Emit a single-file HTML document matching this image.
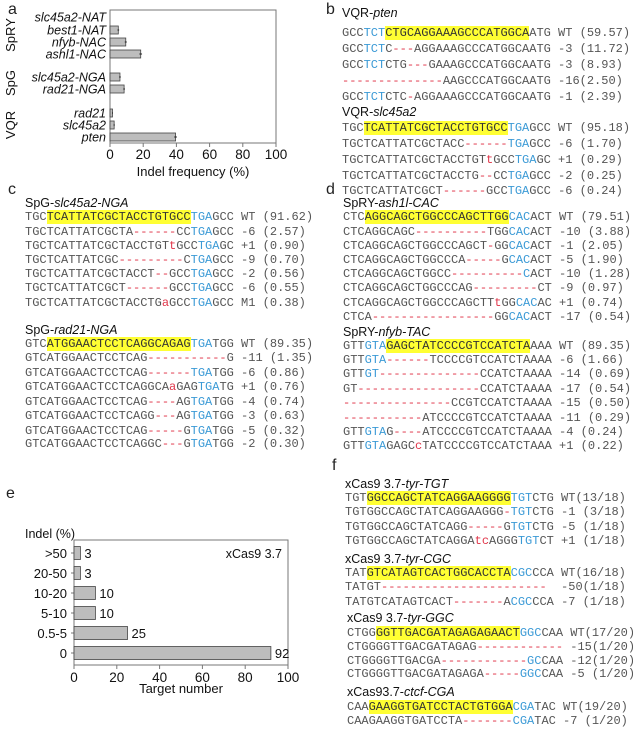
<!DOCTYPE html>
<html><head><meta charset="utf-8">
<style>
body{margin:0;width:633px;height:733px;background:#fff;position:relative;overflow:hidden;font-family:"Liberation Sans",Arial,sans-serif;color:#222}
.lbl{position:absolute;font-size:16px;line-height:16px}
.t{position:absolute;font-size:12.5px;line-height:14px;white-space:nowrap;color:#111}
.t i{font-style:italic}
.s{position:absolute;font-family:"Liberation Mono",monospace;font-size:12px;line-height:14px;white-space:pre;color:#555}
.y{background:#ffff33;color:#333}
.b{color:#3b9ad6}
.r{color:#e0364a}
svg{position:absolute;left:0;top:0}
svg text{font-family:"Liberation Sans",Arial,sans-serif}
</style></head><body>

<svg id="chartA" width="300" height="190"></svg>
<svg id="chartE" width="320" height="733"></svg>

<div class="lbl" style="left:8px;top:2px">a</div>
<div class="lbl" style="left:326px;top:2px">b</div>
<div class="lbl" style="left:8px;top:182px">c</div>
<div class="lbl" style="left:326px;top:182px">d</div>
<div class="lbl" style="left:6px;top:486px">e</div>
<div class="lbl" style="left:332px;top:458px">f</div>

<!-- panel b -->
<div>
<div class="t" style="left:342px;top:6px">VQR-<i>pten</i></div>
<div class="s" style="left:342px;top:26px">GCC<span class="b">TCT</span><span class="y">CTGCAGGAAAGCCCATGGCA</span>ATG WT (59.57)</div>
<div class="s" style="left:342px;top:42px">GCC<span class="b">TCT</span>C<span class="r">---</span>AGGAAAGCCCATGGCAATG -3 (11.72)</div>
<div class="s" style="left:342px;top:58px">GCC<span class="b">TCT</span>CTG<span class="r">---</span>GAAAGCCCATGGCAATG -3 (8.93)</div>
<div class="s" style="left:342px;top:74px"><span class="r">--------------</span>AAGCCCATGGCAATG -16(2.50)</div>
<div class="s" style="left:342px;top:90px">GCC<span class="b">TCT</span>CTC<span class="r">-</span>AGGAAAGCCCATGGCAATG -1 (2.39)</div>
<div class="t" style="left:342px;top:105px">VQR-<i>slc45a2</i></div>
<div class="s" style="left:342px;top:121px">TGC<span class="y">TCATTATCGCTACCTGTGCC</span><span class="b">TGA</span>GCC WT (95.18)</div>
<div class="s" style="left:342px;top:137px">TGCTCATTATCGCTACC<span class="r">------</span><span class="b">TGA</span>GCC -6 (1.70)</div>
<div class="s" style="left:342px;top:153px">TGCTCATTATCGCTACCTGT<span class="r">t</span>GCC<span class="b">TGA</span>GC +1 (0.29)</div>
<div class="s" style="left:342px;top:169px">TGCTCATTATCGCTACCTG<span class="r">--</span>CC<span class="b">TGA</span>GCC -2 (0.25)</div>
<div class="s" style="left:342px;top:184px">TGCTCATTATCGCT<span class="r">------</span>GCC<span class="b">TGA</span>GCC -6 (0.24)</div>
</div>

<!-- panel c -->
<div>
<div class="t" style="left:25px;top:196px">SpG-<i>slc45a2-NGA</i></div>
<div class="s" style="left:25px;top:210px">TGC<span class="y">TCATTATCGCTACCTGTGCC</span><span class="b">TGA</span>GCC WT (91.62)</div>
<div class="s" style="left:25px;top:225px">TGCTCATTATCGCTA<span class="r">------</span>CC<span class="b">TGA</span>GCC -6 (2.57)</div>
<div class="s" style="left:25px;top:239px">TGCTCATTATCGCTACCTGT<span class="r">t</span>GCC<span class="b">TGA</span>GC +1 (0.90)</div>
<div class="s" style="left:25px;top:253px">TGCTCATTATCGC<span class="r">---------</span>C<span class="b">TGA</span>GCC -9 (0.70)</div>
<div class="s" style="left:25px;top:267px">TGCTCATTATCGCTACCT<span class="r">--</span>GCC<span class="b">TGA</span>GCC -2 (0.56)</div>
<div class="s" style="left:25px;top:281px">TGCTCATTATCGCT<span class="r">------</span>GCC<span class="b">TGA</span>GCC -6 (0.55)</div>
<div class="s" style="left:25px;top:296px">TGCTCATTATCGCTACCTG<span class="r">a</span>GCC<span class="b">TGA</span>GCC M1 (0.38)</div>
<div class="t" style="left:25px;top:323px">SpG-<i>rad21-NGA</i></div>
<div class="s" style="left:25px;top:337px">GTC<span class="y">ATGGAACTCCTCAGGCAGAG</span><span class="b">TGA</span>TGG WT (89.35)</div>
<div class="s" style="left:25px;top:351px">GTCATGGAACTCCTCAG<span class="r">-----------</span>G -11 (1.35)</div>
<div class="s" style="left:25px;top:366px">GTCATGGAACTCCTCAG<span class="r">------</span><span class="b">TGA</span>TGG -6 (0.86)</div>
<div class="s" style="left:25px;top:380px">GTCATGGAACTCCTCAGGCA<span class="r">a</span>GAG<span class="b">TGA</span>TG +1 (0.76)</div>
<div class="s" style="left:25px;top:395px">GTCATGGAACTCCTCAG<span class="r">----</span>AG<span class="b">TGA</span>TGG -4 (0.74)</div>
<div class="s" style="left:25px;top:409px">GTCATGGAACTCCTCAGG<span class="r">---</span>AG<span class="b">TGA</span>TGG -3 (0.63)</div>
<div class="s" style="left:25px;top:424px">GTCATGGAACTCCTCAG<span class="r">-----</span>G<span class="b">TGA</span>TGG -5 (0.32)</div>
<div class="s" style="left:25px;top:437px">GTCATGGAACTCCTCAGGC<span class="r">---</span>G<span class="b">TGA</span>TGG -2 (0.30)</div>
</div>

<!-- panel d -->
<div>
<div class="t" style="left:343px;top:196px">SpRY-<i>ash1l-CAC</i></div>
<div class="s" style="left:343px;top:210px">CTC<span class="y">AGGCAGCTGGCCCAGCTTGG</span><span class="b">CAC</span>ACT WT (79.51)</div>
<div class="s" style="left:343px;top:225px">CTCAGGCAGC<span class="r">----------</span>TGG<span class="b">CAC</span>ACT -10 (3.88)</div>
<div class="s" style="left:343px;top:239px">CTCAGGCAGCTGGCCCAGCT<span class="r">-</span>GG<span class="b">CAC</span>ACT -1 (2.05)</div>
<div class="s" style="left:343px;top:253px">CTCAGGCAGCTGGCCCA<span class="r">-----</span>G<span class="b">CAC</span>ACT -5 (1.90)</div>
<div class="s" style="left:343px;top:267px">CTCAGGCAGCTGGCC<span class="r">----------</span><span class="b">C</span>ACT -10 (1.28)</div>
<div class="s" style="left:343px;top:281px">CTCAGGCAGCTGGCCCAG<span class="r">---------</span>CT -9 (0.97)</div>
<div class="s" style="left:343px;top:296px">CTCAGGCAGCTGGCCCAGCTT<span class="r">t</span>GG<span class="b">CAC</span>AC +1 (0.74)</div>
<div class="s" style="left:343px;top:310px">CTCA<span class="r">-----------------</span>GG<span class="b">CAC</span>ACT -17 (0.54)</div>
<div class="t" style="left:343px;top:325px">SpRY-<i>nfyb-TAC</i></div>
<div class="s" style="left:343px;top:339px">GTT<span class="b">GTA</span><span class="y">GAGCTATCCCCGTCCATCTA</span>AAA WT (89.35)</div>
<div class="s" style="left:343px;top:353px">GTT<span class="b">GTA</span><span class="r">------</span>TCCCCGTCCATCTAAAA -6 (1.66)</div>
<div class="s" style="left:343px;top:367px">GTT<span class="b">GT</span><span class="r">--------------</span>CCATCTAAAA -14 (0.69)</div>
<div class="s" style="left:343px;top:382px">GT<span class="r">-----------------</span>CCATCTAAAA -17 (0.54)</div>
<div class="s" style="left:343px;top:396px"><span class="r">---------------</span>CCGTCCATCTAAAA -15 (0.50)</div>
<div class="s" style="left:343px;top:411px"><span class="r">-----------</span>ATCCCCGTCCATCTAAAA -11 (0.29)</div>
<div class="s" style="left:343px;top:425px">GTT<span class="b">GTA</span>G<span class="r">----</span>ATCCCCGTCCATCTAAAA -4 (0.24)</div>
<div class="s" style="left:343px;top:439px">GTT<span class="b">GTA</span>GAGC<span class="r">c</span>TATCCCCGTCCATCTAAA +1 (0.22)</div>
</div>

<!-- panel f -->
<div>
<div class="t" style="left:345px;top:477px">xCas9 3.7-<i>tyr-TGT</i></div>
<div class="s" style="left:345px;top:491px">TGT<span class="y">GGCCAGCTATCAGGAAGGGG</span><span class="b">TGT</span>CTG WT(13/18)</div>
<div class="s" style="left:345px;top:505px">TGTGGCCAGCTATCAGGAAGGG<span class="r">-</span><span class="b">TGT</span>CTG -1 (3/18)</div>
<div class="s" style="left:345px;top:520px">TGTGGCCAGCTATCAGG<span class="r">-----</span>G<span class="b">TGT</span>CTG -5 (1/18)</div>
<div class="s" style="left:345px;top:534px">TGTGGCCAGCTATCAGGA<span class="r">tc</span>AGGG<span class="b">TGT</span>CT +1 (1/18)</div>
<div class="t" style="left:345px;top:552px">xCas9 3.7-<i>tyr-CGC</i></div>
<div class="s" style="left:345px;top:566px">TAT<span class="y">GTCATAGTCACTGGCACCTA</span><span class="b">CGC</span>CCA WT(16/18)</div>
<div class="s" style="left:345px;top:580px">TATGT<span class="r">-----------------------</span>  -50(1/18)</div>
<div class="s" style="left:345px;top:595px">TATGTCATAGTCACT<span class="r">-------</span>A<span class="b">CGC</span>CCA -7 (1/18)</div>
<div class="t" style="left:347px;top:611px">xCas9 3.7-<i>tyr-GGC</i></div>
<div class="s" style="left:347px;top:626px">CTGG<span class="y">GGTTGACGATAGAGAGAACT</span><span class="b">GGC</span>CAA WT(17/20)</div>
<div class="s" style="left:347px;top:640px">CTGGGGTTGACGATAGAG<span class="r">------------</span> -15(1/20)</div>
<div class="s" style="left:347px;top:654px">CTGGGGTTGACGA<span class="r">------------</span><span class="b">GC</span>CAA -12(1/20)</div>
<div class="s" style="left:347px;top:667px">CTGGGGTTGACGATAGAGA<span class="r">-----</span><span class="b">GGC</span>CAA -5 (1/20)</div>
<div class="t" style="left:347px;top:685px">xCas93.7-<i>ctcf-CGA</i></div>
<div class="s" style="left:347px;top:700px">CAA<span class="y">GAAGGTGATCCTACTGTGGA</span><span class="b">CGA</span>TAC WT(19/20)</div>
<div class="s" style="left:347px;top:714px">CAAGAAGGTGATCCTA<span class="r">-------</span><span class="b">CGA</span>TAC -7 (1/20)</div>
</div>

<script>
// Panel a data
const aLabels = ["slc45a2-NAT","best1-NAT","nfyb-NAC","ashl1-NAC","slc45a2-NGA","rad21-NGA","rad21","slc45a2","pten"];
const aValues = [0, 5, 9.5, 18.5, 6, 8.5, 1.5, 2.5, 39.5];
const aErrors = [0, 0.5, 0.6, 0.8, 0.5, 0.5, 0.3, 0.4, 0.8];
const aTicks = [0, 20, 40, 60, 80, 100];
const aGroups = ["SpRY","SpG","VQR"];
// Panel e data
const eCats = [">50","20-50","10-20","5-10","0.5-5","0"];
const eValues = [3, 3, 10, 10, 25, 92];
const eTicks = [0, 20, 40, 60, 80, 100];

const NS = "http://www.w3.org/2000/svg";
function mk(svg, tag, attrs, text){
  const el = document.createElementNS(NS, tag);
  for (const k in attrs) el.setAttribute(k, attrs[k]);
  if (text !== undefined) el.textContent = text;
  svg.appendChild(el); return el;
}

// ----- chart a -----
(function(){
  const svg = document.getElementById("chartA");
  const x0 = 110, x1 = 276, top = 10, bot = 143;
  const xs = v => x0 + (v/100)*(x1-x0);
  const rowY = [17, 30, 42, 54, 77, 89, 113, 125, 137];
  const groupY = [35, 83, 125];
  const f = mk(svg,"rect",{x:x0,y:top,width:x1-x0,height:bot-top,fill:"none",stroke:"#777","stroke-width":1});
  
  
  aLabels.forEach((lab,i)=>{
    const y = rowY[i];
    const t = mk(svg,"text",{x:106,y:y+4.5,"text-anchor":"end","font-size":"12.5","font-style":"italic",fill:"#111"},lab);
    
    
    if (aValues[i] > 0){
      const r = mk(svg,"rect",{x:x0,y:y-4,width:xs(aValues[i])-x0,height:8,fill:"#bdbdbd",stroke:"#444","stroke-width":0.8});
      
      
      const e = mk(svg,"line",{x1:xs(aValues[i]-aErrors[i]),x2:xs(aValues[i]+aErrors[i]),y1:y,y2:y,stroke:"#222","stroke-width":1});
      
      
    }
  });
  aGroups.forEach((g,i)=>{
    const t = mk(svg,"text",{x:0,y:0,"text-anchor":"middle","font-size":"13",fill:"#111",transform:`translate(15,${groupY[i]}) rotate(-90)`},g);
    
    
  });
  aTicks.forEach(v=>{
    const l = mk(svg,"line",{x1:xs(v),x2:xs(v),y1:bot,y2:bot+4,stroke:"#777"});
    
    
    const t = mk(svg,"text",{x:xs(v),y:bot+16,"text-anchor":"middle","font-size":"13.5",fill:"#111"},v);
    
    
  });
  const tt = mk(svg,"text",{x:(x0+x1)/2,y:bot+33,"text-anchor":"middle","font-size":"13",fill:"#111"},"Indel frequency (%)");
  
  
})();

// ----- chart e -----
(function(){
  const svg = document.getElementById("chartE");
  const x0 = 74, x1 = 288, top = 540, bot = 665;
  const xs = v => x0 + (v/100)*(x1-x0);
  const f = mk(svg,"rect",{x:x0,y:top,width:x1-x0,height:bot-top,fill:"none",stroke:"#777","stroke-width":1});
  
  
  const step = 20, firstY = 553;
  eCats.forEach((c,i)=>{
    const y = firstY + i*step;
    const t = mk(svg,"text",{x:67,y:y+5,"text-anchor":"end","font-size":"13",fill:"#111"},c);
    
    
    const tk = mk(svg,"line",{x1:x0-3,x2:x0,y1:y,y2:y,stroke:"#777"});
    
    
    const r = mk(svg,"rect",{x:x0,y:y-6.5,width:xs(eValues[i])-x0,height:13,fill:"#bdbdbd",stroke:"#444","stroke-width":0.8});
    
    
    const v = mk(svg,"text",{x:xs(eValues[i])+4,y:y+5,"font-size":"13",fill:"#111"},eValues[i]);
    
    
  });
  eTicks.forEach(v=>{
    const l = mk(svg,"line",{x1:xs(v),x2:xs(v),y1:bot,y2:bot+4,stroke:"#777"});
    
    
    const t = mk(svg,"text",{x:xs(v),y:bot+17,"text-anchor":"middle","font-size":"13.5",fill:"#111"},v);
    
    
  });
  const tt = mk(svg,"text",{x:(x0+x1)/2,y:bot+28,"text-anchor":"middle","font-size":"13",fill:"#111"},"Target number");
  
  
  const yt = mk(svg,"text",{x:25,y:538,"font-size":"12.5",fill:"#111"},"Indel (%)");
  
  
  const lg = mk(svg,"text",{x:282,y:558,"text-anchor":"end","font-size":"12.5",fill:"#111"},"xCas9 3.7");
  
  
})();
</script>
</body></html>
